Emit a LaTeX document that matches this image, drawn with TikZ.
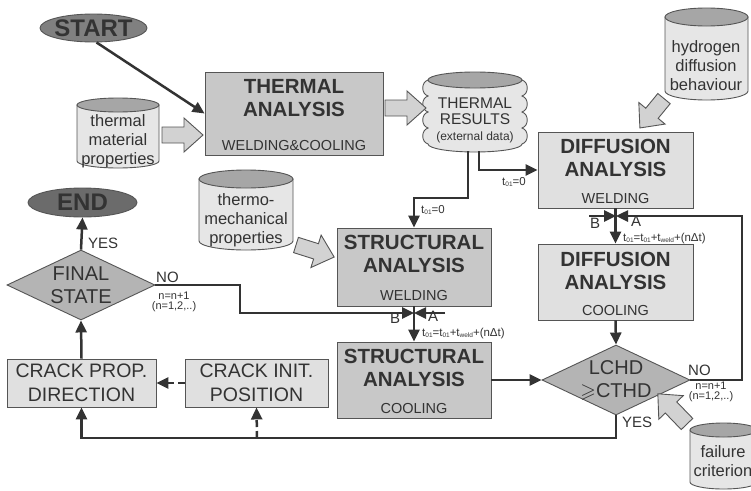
\documentclass[tikz,border=0pt]{standalone}
\usepackage{amssymb}
\usepackage{fontspec}
\setmainfont{Liberation Sans}
\usetikzlibrary{arrows.meta,shapes.geometric}
\definecolor{ink}{HTML}{333333}
\definecolor{edgec}{HTML}{555555}
\definecolor{boxdark}{HTML}{C8C8C8}
\definecolor{boxlight}{HTML}{E0E0E0}
\definecolor{dia}{HTML}{B4B4B4}
\definecolor{cylb}{HTML}{E6E6E6}
\definecolor{cylt}{HTML}{A6A6A6}
\definecolor{startc}{HTML}{808080}
\definecolor{endc}{HTML}{6B6B6B}
\definecolor{barc}{HTML}{D2D2D2}
\newcommand\tsub[1]{\raisebox{-1.6pt}{\fontsize{6.5}{7}\selectfont #1}}
\newcommand\cylshape[5]{%
  \path[cylbody] (#1,#3+#5) -- (#1,#4-#5) arc[start angle=180, end angle=0, x radius={(#2-#1)/2}, y radius=#5] -- (#2,#3+#5) -- cycle;
  \path[cyltop] ({(#1+#2)/2},#3+#5) ellipse[x radius={(#2-#1)/2}, y radius=#5];}
\newcommand\blockarr[4]{%
  \draw[blockarrow, shift={(#1,#2)}, rotate=#3] (0,-8) -- ({#4-19},-8) -- ({#4-19},-17) -- (#4,0) -- ({#4-19},17) -- ({#4-19},8) -- (0,8) -- cycle;}
\tikzset{
  line/.style={draw=ink, line width=2.5pt},
  arr/.style={line, -{Triangle[length=12pt,width=11pt]}},
  dash7/.style={dash pattern=on 7pt off 4pt},
  box/.style={rectangle, draw=edgec, line width=0.9pt, inner sep=0pt},
  darkbox/.style={box, fill=boxdark},
  lightbox/.style={box, fill=boxlight},
  titletxt/.style={font=\bfseries\fontsize{20.5}{23}\selectfont, align=center, text=ink, inner sep=0pt},
  subtxt/.style={font=\fontsize{14.5}{17}\selectfont, text=ink, inner sep=0pt},
  cyltxt/.style={font=\fontsize{16.5}{19}\selectfont, align=center, text=ink, inner sep=0pt},
  cylbody/.style={fill=cylb, draw=edgec, line width=0.9pt},
  cyltop/.style={fill=cylt, draw=edgec, line width=0.9pt},
  blockarrow/.style={fill=barc, draw=edgec, line width=0.9pt, line join=miter},
  small/.style={font=\fontsize{11.5}{13}\selectfont, text=ink, inner sep=0pt},
  nlbl/.style={font=\fontsize{11}{10.5}\selectfont, text=ink, inner sep=0pt, align=center},
  lbl/.style={font=\fontsize{15}{17}\selectfont, text=ink, inner sep=0pt},
  diatxt/.style={font=\fontsize{20}{23}\selectfont, align=center, text=ink, inner sep=0pt},
  cracktxt/.style={font=\fontsize{19.5}{23.5}\selectfont, align=center, text=ink},
}
\begin{document}
\begin{tikzpicture}[x=1pt,y=-1pt]
\useasboundingbox (0,0) rectangle (751,490);
\fill[white] (0,0) rectangle (751,490);
\clip (0,0) rectangle (751,490);

% cylinders
\cylshape{77}{159}{98}{168}{7}
\node[cyltxt] (tmat) at (118,141) {thermal\\material\\properties};
\cylshape{665}{748}{8}{100}{9}
\node[cyltxt] (hydro) at (706,66) {hydrogen\\diffusion\\behaviour};
\cylshape{199}{293}{170}{250}{9}
\node[cyltxt] (tmech) at (246,220) {thermo-\\mechanical\\properties};
\cylshape{690}{757}{423}{489}{7}
\node[cyltxt] (fail) at (723,461) {failure\\criterion};

% thermal results (wavy cylinder)
\path[cylbody] (428,80)
  .. controls (421,82) and (421,94) .. (428,96)
  .. controls (421,98) and (421,110) .. (428,112)
  .. controls (421,114) and (421,126) .. (428,128)
  .. controls (421,130) and (421,142) .. (428,144)
  arc[start angle=180,end angle=0,x radius=47,y radius=8]
  .. controls (529,142) and (529,130) .. (522,128)
  .. controls (529,126) and (529,114) .. (522,112)
  .. controls (529,110) and (529,98) .. (522,96)
  .. controls (529,94) and (529,82) .. (522,80) -- cycle;
\path[cyltop] (475,80) ellipse[x radius=47, y radius=8];
\node[font=\fontsize{15.5}{16.5}\selectfont, align=center, text=ink, inner sep=0pt] (results) at (475,120)
  {THERMAL\\RESULTS\\[-1pt]{\fontsize{12}{13}\selectfont (external data)}};

% start / end
\node[ellipse, draw=edgec, fill=startc, line width=0.9pt, minimum width=107pt, minimum height=28pt, inner sep=0pt] (start) at (93.5,28) {};
\node[font=\bfseries\fontsize{24}{28}\selectfont, text=ink, inner sep=0pt] (starttxt) at (start.center) {START};
\node[ellipse, draw=edgec, fill=endc, line width=0.9pt, minimum width=109pt, minimum height=29pt, inner sep=0pt] (end) at (82.5,202.5) {};
\node[font=\bfseries\fontsize{24}{28}\selectfont, text=ink, inner sep=0pt] (endtxt) at (end.center) {END};

% analysis boxes
\node[darkbox, minimum width=178pt, minimum height=83pt] (thermal) at (294,113.5) {};
\node[titletxt, anchor=north] (thermaltt) at ([yshift=-8pt]thermal.north) {THERMAL\\ANALYSIS};
\node[subtxt, anchor=base] (thermalsub) at ([yshift=5pt]thermal.south) {WELDING\&COOLING};

\node[darkbox, minimum width=154pt, minimum height=78pt] (sw) at (414,267) {};
\node[titletxt, anchor=north] (swtt) at ([yshift=-7pt]sw.north) {STRUCTURAL\\ANALYSIS};
\node[subtxt, anchor=base] (swsub) at ([yshift=6pt]sw.south) {WELDING};

\node[darkbox, minimum width=154pt, minimum height=76pt] (sc) at (414,380) {};
\node[titletxt, anchor=north] (sctt) at ([yshift=-7pt]sc.north) {STRUCTURAL\\ANALYSIS};
\node[subtxt, anchor=base] (scsub) at ([yshift=5pt]sc.south) {COOLING};

\node[lightbox, minimum width=155pt, minimum height=76pt] (dw) at (615.5,170) {};
\node[titletxt, anchor=north] (dwtt) at ([yshift=-7pt]dw.north) {DIFFUSION\\ANALYSIS};
\node[subtxt, anchor=base] (dwsub) at ([yshift=5pt]dw.south) {WELDING};

\node[lightbox, minimum width=155pt, minimum height=76pt] (dc) at (615.5,282) {};
\node[titletxt, anchor=north] (dctt) at ([yshift=-8pt]dc.north) {DIFFUSION\\ANALYSIS};
\node[subtxt, anchor=base] (dcsub) at ([yshift=5pt]dc.south) {COOLING};

% crack boxes
\node[lightbox, cracktxt, minimum width=149pt, minimum height=48pt] (cp) at (81.5,383) {CRACK PROP.\\DIRECTION};
\node[lightbox, cracktxt, minimum width=143pt, minimum height=48pt] (ci) at (256.5,383) {CRACK INIT.\\POSITION};

% decisions
\node[diamond, draw=edgec, fill=dia, line width=0.9pt, minimum width=148pt, minimum height=70pt, inner sep=0pt] (fs) at (81,285) {};
\node[diatxt] (fstxt) at (fs.center) {FINAL\\STATE};
\node[diamond, draw=edgec, fill=dia, line width=0.9pt, minimum width=148pt, minimum height=70pt, inner sep=0pt] (lchd) at (616,380) {};
\node[diatxt] (lchdtxt) at (lchd.center) {LCHD\\$\geqslant$CTHD};

% block arrows
\blockarr{162}{135}{0}{41}
\blockarr{385}{108}{0}{41}
\blockarr{664}{98.6}{-129.4}{38}
\blockarr{296}{245}{-17.5}{40}
\blockarr{687}{424}{134}{42}

% connectors
\draw[arr] ([xshift=3pt]start.south) -- (thermal.west);
\coordinate (r1) at (468,151);
\coordinate (r2) at (479,151);
\draw[arr] (r1) -- (468,198) -| (sw.north);
\draw[arr] (r2) |- (dw.west);
\node[small, anchor=base west] (t0a) at (421,213) {t\tsub{01}=0};
\node[small, anchor=base west] (t0b) at (502,185) {t\tsub{01}=0};

\draw[arr] (sw.south) -- (sc.north);
\coordinate (j1) at (414,313);
\coordinate (a1) at (445,313);
\draw[arr] (fs.east) -- (240,285) |- (j1);
\draw[arr] (a1) -- (j1);
\node[lbl] (b1t) at (395,318) {B};
\node[lbl] (a1t) at (433,316.5) {A};
\node[small, anchor=base west] (tl1) at (422,336) {t\tsub{01}=t\tsub{01}+t\tsub{weld}+(nΔt)};

\draw[arr] (dw.south) -- (dc.north);
\coordinate (j2) at (616,216);
\coordinate (b2) at (589,216);
\draw[arr] (b2) -- (j2);
\draw[arr] (lchd.east) -- (742,380) |- (j2);
\node[lbl] (b2t) at (595,223) {B};
\node[lbl] (a2t) at (636,221.5) {A};
\node[small, anchor=base west] (tl2) at (623,241) {t\tsub{01}=t\tsub{01}+t\tsub{weld}+(nΔt)};

\draw[arr] (dc.south) -- (lchd.north);
\draw[arr] (sc.east) -- (lchd.west);
\coordinate (yj) at (257,438);
\draw[arr] (lchd.south) -- (616,438) -| (cp.south);
\draw[arr, dash7] (yj) -- (ci.south);
\draw[arr, dash7] (ci.west) -- (cp.east);
\draw[arr] (cp.north) -- (fs.south);
\draw[arr] (fs.north) -- (end.south);

% labels
\node[lbl, anchor=base west] (yes1) at (88,248) {YES};
\node[lbl, anchor=base west] (no1) at (156,282) {NO};
\node[nlbl] (n1) at (174,302) {n=n+1\\(n=1,2,..)};
\node[lbl, anchor=base west] (no2) at (688,375) {NO};
\node[nlbl] (n2) at (711,392) {n=n+1\\(n=1,2,..)};
\node[lbl, anchor=base west] (yes2) at (622,427) {YES};
\end{tikzpicture}
\end{document}
